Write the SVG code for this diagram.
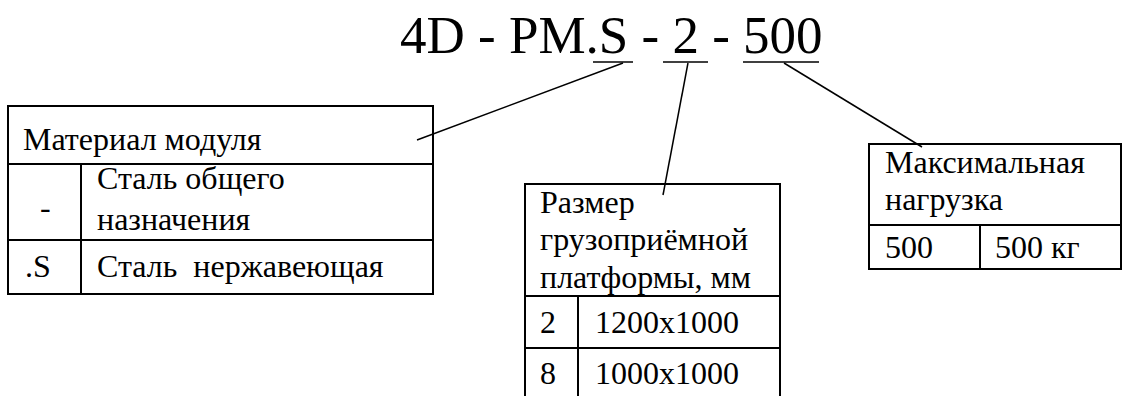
<svg xmlns="http://www.w3.org/2000/svg" width="1122" height="396" viewBox="0 0 1122 396" font-family="'Liberation Serif', 'DejaVu Serif', serif">
<style>
.t{font-size:53px}
.c{font-size:32px}
.b{fill:none;stroke:#000;stroke-width:2}
.l{stroke:#000;stroke-width:1.5;fill:none}
</style>
<rect width="1122" height="396" fill="#fff"/>
<g id="title">
<text class="t" x="400" y="53">4D - PM.S - 2 - 500</text>
<line class="l" x1="593" y1="62" x2="633" y2="62"/>
<line class="l" x1="663" y1="62" x2="708" y2="62"/>
<line class="l" x1="743" y1="62" x2="819" y2="62"/>
</g>
<g id="connectors">
<line class="l" x1="623" y1="63" x2="417" y2="140"/>
<line class="l" x1="688" y1="63" x2="663" y2="195"/>
<line class="l" x1="784" y1="63" x2="922" y2="147"/>
</g>
<g id="material">
<rect class="b" x="8" y="106" width="425" height="188"/>
<line class="b" x1="8" y1="164" x2="433" y2="164"/>
<line class="b" x1="8" y1="240" x2="433" y2="240"/>
<line class="b" x1="81" y1="164" x2="81" y2="294"/>
<text class="c" x="23" y="150">Материал модуля</text>
<text class="c" x="40" y="218">-</text>
<text class="c" x="97" y="189">Сталь общего</text>
<text class="c" x="97" y="230">назначения</text>
<text class="c" x="25" y="277">.S</text>
<text class="c" x="97" y="277" xml:space="preserve">Сталь  нержавеющая</text>
</g>
<g id="size">
<rect class="b" x="525" y="184" width="255" height="220"/>
<line class="b" x1="525" y1="296" x2="780" y2="296"/>
<line class="b" x1="525" y1="348" x2="780" y2="348"/>
<line class="b" x1="578" y1="296" x2="578" y2="396"/>
<text class="c" x="540" y="213">Размер</text>
<text class="c" x="540" y="250">грузоприёмной</text>
<text class="c" x="540" y="288">платформы, мм</text>
<text class="c" x="540" y="333">2</text>
<text class="c" x="595" y="333">1200x1000</text>
<text class="c" x="540" y="384">8</text>
<text class="c" x="595" y="384">1000x1000</text>
</g>
<g id="load">
<rect class="b" x="869" y="144" width="252" height="125"/>
<line class="b" x1="869" y1="225" x2="1121" y2="225"/>
<line class="b" x1="980" y1="225" x2="980" y2="269"/>
<text class="c" x="885" y="173">Максимальная</text>
<text class="c" x="885" y="210">нагрузка</text>
<text class="c" x="885" y="258">500</text>
<text class="c" x="995" y="258">500 кг</text>
</g>
</svg>
